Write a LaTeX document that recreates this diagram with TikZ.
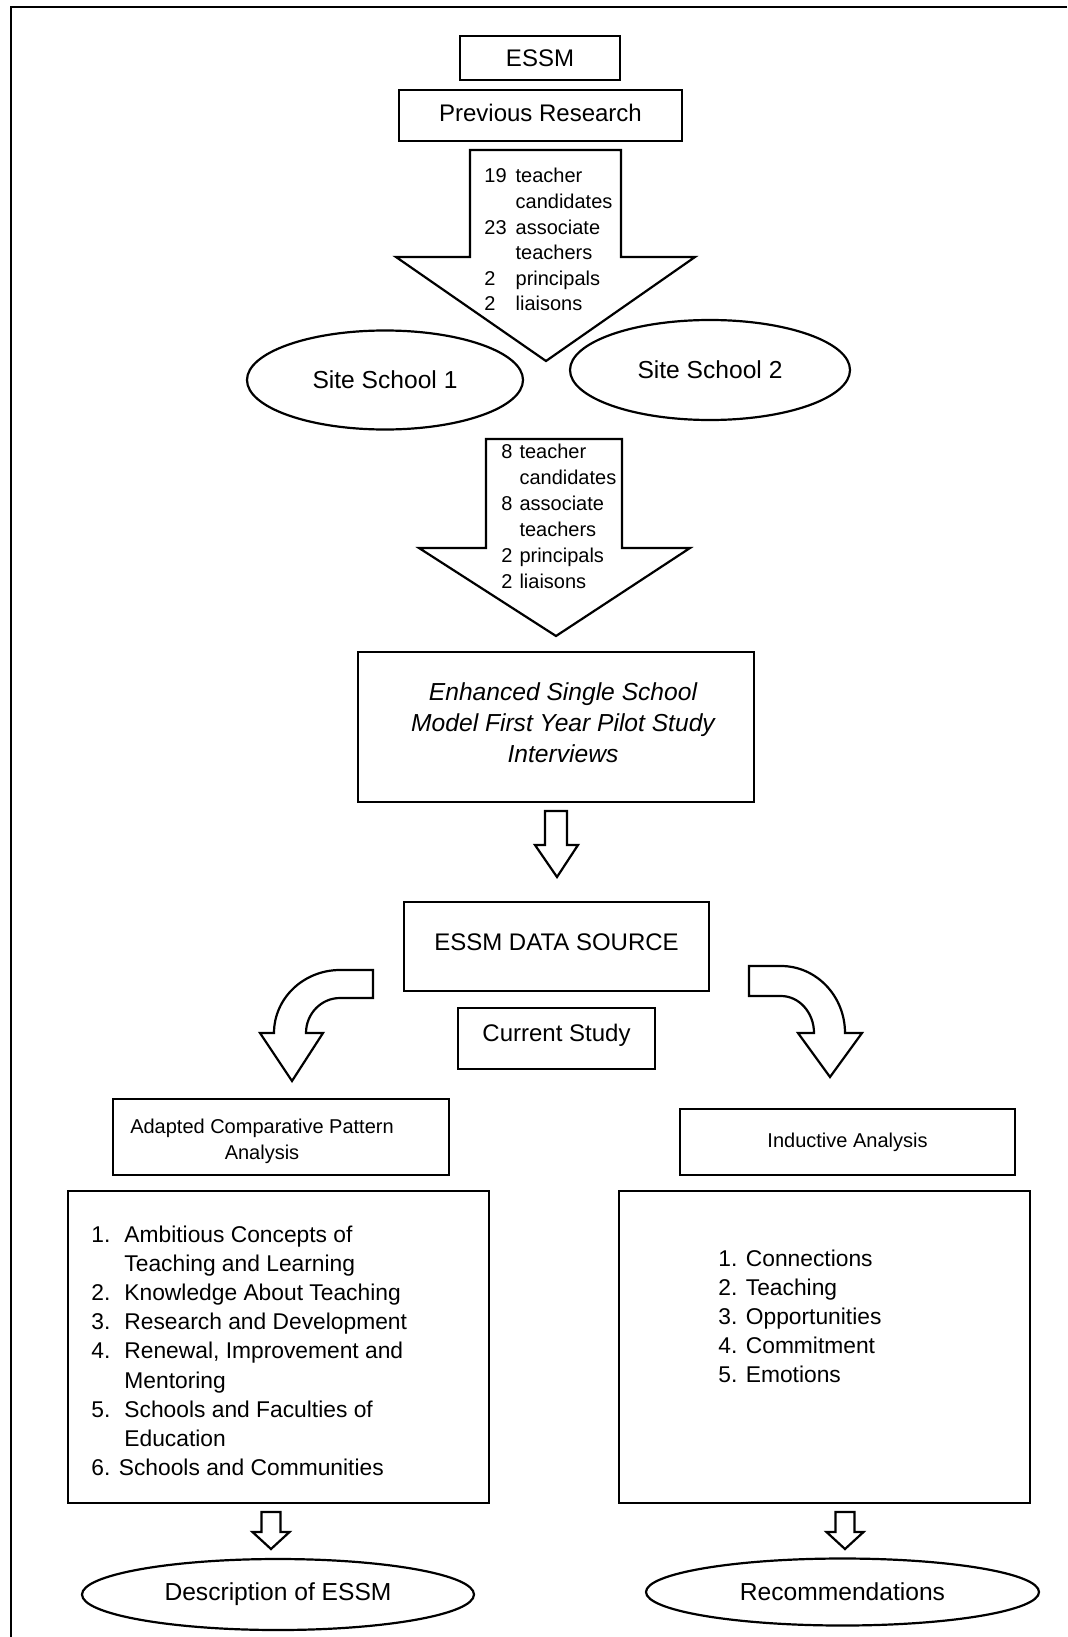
\documentclass[tikz,border=0pt]{standalone}
\usepackage{fontspec}
\setmainfont{Liberation Sans}
\usepackage{tikz}
\usetikzlibrary{
    positioning,
    shapes.geometric,
    calc
}
\newcommand{\fs}[2]{\fontsize{#1}{#2}\selectfont}

\begin{document}
\begin{tikzpicture}[
    x=0.5pt, y=-0.5pt,
    blockbox/.style={
        rectangle, draw, line width=1.1pt, inner sep=0pt,
        align=center, font=\fs{12}{15}
    },
    oval/.style={ellipse, draw, line width=1.1pt, inner sep=0pt, font=\fs{12.3}{15}},
    fatarrow/.style={draw, line width=1.1pt, line join=miter},
    countlist/.style={anchor=base west, inner sep=0pt, font=\fs{10}{12.8}},
    itemlist/.style={anchor=base west, inner sep=0pt, font=\fs{11.4}{14.6}}
]
\useasboundingbox (0,0) rectangle (1067,1637);

% page frame
\draw[line width=1.3pt] (1067,7) -- (11,7) -- (11,1637);

% Top: ESSM and previous research
\node[blockbox, minimum width=80pt, minimum height=22pt] (essm) at (540,58) {ESSM};
\node[blockbox, minimum width=141.5pt, minimum height=25.5pt, text depth=3pt] (prev) at (540.5,115.5) {Previous Research};

% First fat arrow with participants
\draw[fatarrow] (470,150) -- (621,150) -- (621,257) -- (695,257) -- (546,361) -- (396,257) -- (470,257) -- cycle;
\node[countlist] (prevcount) at (484,183) {\begin{tabular}[t]{@{}l@{\hspace{4.5pt}}l@{}}
19 & teacher\\
   & candidates\\
23 & associate\\
   & teachers\\
2  & principals\\
2  & liaisons
\end{tabular}};

% Site schools
\node[oval, minimum width=138pt, minimum height=49.5pt] (site1) at (385,380) {Site School 1};
\node[oval, minimum width=140pt, minimum height=50pt] (site2) at (710,370) {Site School 2};

% Second fat arrow
\draw[fatarrow] (486,439) -- (622,439) -- (622,548) -- (690,548) -- (556,636) -- (419,548) -- (486,548) -- cycle;
\node[countlist, font=\fs{10}{13}] (sitecount) at (501,458) {\begin{tabular}[t]{@{}l@{\hspace{3.5pt}}l@{}}
8 & teacher\\
  & candidates\\
8 & associate\\
  & teachers\\
2 & principals\\
2 & liaisons
\end{tabular}};

% Pilot study
\node[blockbox, minimum width=198pt, minimum height=75pt] (pilot) at (556,727) {};
\node[align=center, inner sep=0pt, font=\fs{12.3}{15.5}\itshape] (pilottxt) at (563,723)
    {Enhanced Single School\\Model First Year Pilot Study\\Interviews};
\draw[fatarrow] (545,811) -- (567,811) -- (567,845) -- (578,845) -- (557,877) -- (535,845) -- (545,845) -- cycle;

% Data source and current study
\node[blockbox, minimum width=152.5pt, minimum height=44.5pt, text depth=4.5pt] (source) at (556.5,946.5) {ESSM DATA SOURCE};
\node[blockbox, minimum width=98.5pt, minimum height=30.5pt, text depth=5.5pt] (current) at (556.5,1038.5) {Current Study};

% Curved arrows to both analyses
\draw[fatarrow] (373,970) -- (340,970) .. controls (303.6,970) and (274,998.2) .. (274,1033)
    -- (260,1033) -- (292,1081) -- (323,1033) -- (306,1033)
    .. controls (306,1013.7) and (321.2,998) .. (340,998) -- (373,998) -- cycle;
\draw[fatarrow] (749,966) -- (781,966) .. controls (816.3,966) and (845,996) .. (845,1033)
    -- (862,1033) -- (830,1077) -- (798,1033) -- (814,1033)
    .. controls (814,1012.6) and (799.2,996) .. (781,996) -- (749,996) -- cycle;

% Analysis headers
\node[blockbox, minimum width=168pt, minimum height=38pt] (adapt) at (281,1137) {};
\node[anchor=base, inner sep=0pt, font=\fs{10}{13}] (adapttxt) at (262,1133)
    {\begin{tabular}[t]{@{}c@{}}Adapted Comparative Pattern\\Analysis\end{tabular}};
\node[blockbox, minimum width=167.5pt, minimum height=33pt, font=\fs{10}{13}] (induct) at (847.5,1142) {Inductive Analysis};

% Result lists
\node[blockbox, minimum width=210.5pt, minimum height=156pt] (adaptbox) at (278.5,1347) {};
\node[itemlist] (adaptlist) at (91,1242) {\begin{tabular}[t]{@{}l@{\hspace{7pt}}l@{}}
1. & Ambitious Concepts of\\
   & Teaching and Learning\\
2. & Knowledge About Teaching\\
3. & Research and Development\\
4. & Renewal, Improvement and\\
   & Mentoring\\
5. & Schools and Faculties of\\
   & Education\\
\multicolumn{2}{@{}l@{}}{6. Schools and Communities}
\end{tabular}};

\node[blockbox, minimum width=205.5pt, minimum height=156pt] (inductbox) at (824.5,1347) {};
\node[itemlist] (inductlist) at (718,1266) {\begin{tabular}[t]{@{}l@{}}
1. Connections\\
2. Teaching\\
3. Opportunities\\
4. Commitment\\
5. Emotions
\end{tabular}};

% Small arrows to outcomes
\foreach \cx in {271,845}
    \draw[fatarrow] (\cx-9.5,1512) -- (\cx+9.5,1512) -- (\cx+9.5,1532) -- (\cx+18.5,1532)
        -- (\cx,1549) -- (\cx-18.5,1532) -- (\cx-9.5,1532) -- cycle;

% Outcomes
\node[oval, minimum width=196pt, minimum height=35.5pt] (descr) at (278,1594.5) {Description of ESSM};
\node[oval, minimum width=196.5pt, minimum height=33.5pt] (recom) at (842.5,1592) {Recommendations};

\end{tikzpicture}
\end{document}
